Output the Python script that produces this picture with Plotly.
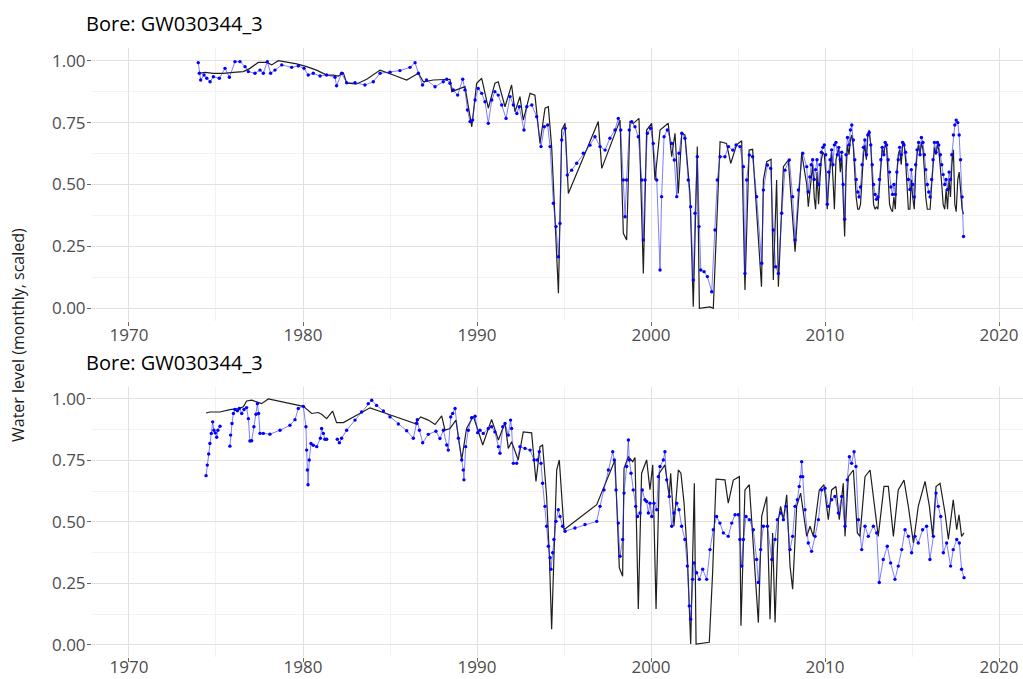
import plotly.graph_objects as go

# ---------------- Upper panel: observed and simulated monthly levels ----------------
top_obs_year = [
    1973.98, 1974.37, 1974.85, 1975.42, 1976.00, 1976.57, 1976.95, 1977.43, 1977.91, 1978.20,
    1978.58, 1979.06, 1979.64, 1980.21, 1980.78, 1981.36, 1981.74, 1982.03, 1982.32, 1982.51,
    1983.08, 1983.66, 1984.43, 1985.19, 1985.96, 1986.63, 1986.92, 1987.49, 1988.45, 1988.55,
    1988.83, 1989.31, 1989.70, 1989.98, 1990.27, 1990.65, 1991.03, 1991.22, 1991.61, 1991.99,
    1992.18, 1992.47, 1992.66, 1993.05, 1993.33, 1993.62, 1993.91, 1994.10, 1994.29, 1994.48,
    1994.68, 1994.87, 1995.06, 1995.25, 1996.97, 1997.17, 1998.22, 1998.41, 1998.60, 1998.79,
    1998.99, 1999.31, 1999.56, 1999.75, 2000.04, 2000.23, 2000.52, 2000.99, 2001.19, 2001.38,
    2001.57, 2001.77, 2001.95, 2002.24, 2002.43, 2002.66, 2002.78, 2003.39, 2003.58, 2003.97,
    2004.34, 2004.58, 2004.92, 2005.21, 2005.40, 2005.64, 2005.84, 2006.35, 2006.46, 2006.65,
    2006.90, 2007.03, 2007.22, 2007.32, 2007.61, 2007.89, 2008.28, 2008.66, 2008.95,
    2009.04, 2009.13, 2009.21, 2009.29, 2009.38, 2009.46, 2009.54, 2009.63, 2009.71, 2009.79, 2009.88, 2009.96,
    2010.04, 2010.13, 2010.21, 2010.29, 2010.38, 2010.46, 2010.54, 2010.63, 2010.71, 2010.79, 2010.88, 2010.96,
    2011.04, 2011.13, 2011.21, 2011.29, 2011.38, 2011.46, 2011.54, 2011.63, 2011.71, 2011.79, 2011.88, 2011.96,
    2012.04, 2012.13, 2012.21, 2012.29, 2012.38, 2012.46, 2012.54, 2012.63, 2012.71, 2012.79, 2012.88, 2012.96,
    2013.04, 2013.13, 2013.21, 2013.29, 2013.38, 2013.46, 2013.54, 2013.63, 2013.71, 2013.79, 2013.88, 2013.96,
    2014.04, 2014.13, 2014.21, 2014.29, 2014.38, 2014.46, 2014.54, 2014.63, 2014.71, 2014.79, 2014.88, 2014.96,
    2015.04, 2015.13, 2015.21, 2015.29, 2015.38, 2015.46, 2015.54, 2015.63, 2015.71, 2015.79, 2015.88, 2015.96,
    2016.04, 2016.13, 2016.21, 2016.29, 2016.38, 2016.46, 2016.54, 2016.63, 2016.71, 2016.79, 2016.88, 2016.96,
    2017.04, 2017.13, 2017.21, 2017.29, 2017.38, 2017.46, 2017.54, 2017.63, 2017.71, 2017.79, 2017.88, 2017.96,
]
top_obs_level = [
    0.949, 0.953, 0.949, 0.949, 0.953, 0.956, 0.969, 0.993, 0.993, 0.983,
    1.000, 0.995, 0.987, 0.976, 0.962, 0.942, 0.942, 0.938, 0.951, 0.909,
    0.906, 0.925, 0.962, 0.942, 0.922, 0.949, 0.915, 0.922, 0.925, 0.875,
    0.882, 0.895, 0.733, 0.909, 0.929, 0.808, 0.909, 0.915, 0.814, 0.902,
    0.794, 0.855, 0.760, 0.868, 0.861, 0.666, 0.808, 0.814, 0.653, 0.384,
    0.061, 0.720, 0.747, 0.464, 0.754, 0.565, 0.760, 0.303, 0.276, 0.754,
    0.747, 0.767, 0.141, 0.720, 0.747, 0.518, 0.720, 0.747, 0.612, 0.707,
    0.464, 0.707, 0.700, 0.464, 0.006, 0.653, 0.000, 0.006, 0.000, 0.673,
    0.666, 0.585, 0.660, 0.677, 0.074, 0.639, 0.642, 0.087, 0.518, 0.592,
    0.602, 0.114, 0.518, 0.087, 0.572, 0.599, 0.229, 0.626, 0.500,
    0.41, 0.48, 0.55, 0.58, 0.45, 0.40, 0.55, 0.42, 0.52, 0.60, 0.63, 0.62,
    0.55, 0.40, 0.50, 0.58, 0.63, 0.52, 0.40, 0.60, 0.62, 0.65, 0.55, 0.62,
    0.45, 0.29, 0.55, 0.66, 0.62, 0.68, 0.70, 0.65, 0.55, 0.45, 0.40, 0.40,
    0.42, 0.52, 0.62, 0.66, 0.60, 0.70, 0.72, 0.66, 0.52, 0.42, 0.40, 0.41,
    0.40, 0.50, 0.60, 0.65, 0.62, 0.66, 0.65, 0.52, 0.42, 0.40, 0.39, 0.45,
    0.40, 0.55, 0.62, 0.64, 0.58, 0.66, 0.67, 0.60, 0.48, 0.40, 0.40, 0.52,
    0.45, 0.40, 0.55, 0.62, 0.66, 0.62, 0.67, 0.64, 0.56, 0.45, 0.40, 0.40,
    0.40, 0.50, 0.60, 0.65, 0.62, 0.66, 0.64, 0.58, 0.50, 0.42, 0.40, 0.48,
    0.40, 0.52, 0.45, 0.58, 0.64, 0.42, 0.39, 0.52, 0.55, 0.48, 0.40, 0.38,
]

top_sim_year = [
    1973.98, 1974.04, 1974.12, 1974.31, 1974.47, 1974.66, 1974.85, 1975.19, 1975.52, 1975.77,
    1976.09, 1976.38, 1976.67, 1976.86, 1977.24, 1977.53, 1977.72, 1977.95, 1978.14, 1978.39,
    1978.78, 1979.35, 1979.73, 1980.06, 1980.30, 1980.59, 1980.98, 1981.36, 1981.84, 1981.93,
    1982.22, 1982.51, 1982.99, 1983.56, 1984.04, 1984.43, 1985.00, 1985.57, 1986.15, 1986.44,
    1986.63, 1986.87, 1987.10, 1987.59, 1988.06, 1988.26, 1988.45, 1988.64, 1988.89, 1989.18,
    1989.31, 1989.45, 1989.60, 1989.75, 1989.89, 1990.07, 1990.27, 1990.46, 1990.65, 1990.85,
    1991.03, 1991.22, 1991.42, 1991.67, 1991.90, 1992.09, 1992.29, 1992.43, 1992.70, 1992.86,
    1993.15, 1993.43, 1993.68, 1993.87, 1994.06, 1994.20, 1994.39, 1994.54, 1994.68, 1994.77,
    1994.87, 1995.06, 1995.19, 1995.44, 1995.73, 1996.11, 1996.49, 1996.78, 1997.07, 1997.36,
    1997.64, 1997.93, 1998.12, 1998.26, 1998.41, 1998.51, 1998.60, 1998.75, 1998.89, 1999.08,
    1999.27, 1999.47, 1999.56, 1999.66, 1999.79, 1999.98, 2000.13, 2000.33, 2000.52, 2000.61,
    2000.75, 2000.94, 2001.19, 2001.34, 2001.48, 2001.61, 2001.77, 2001.95, 2002.14, 2002.28,
    2002.43, 2002.53, 2002.66, 2002.76, 2002.86, 2003.05, 2003.24, 2003.49, 2003.68, 2003.81,
    2003.97, 2004.25, 2004.45, 2004.70, 2004.89, 2005.11, 2005.31, 2005.40, 2005.50, 2005.65,
    2005.84, 2006.07, 2006.36, 2006.46, 2006.69, 2006.88, 2007.03, 2007.16, 2007.32, 2007.51,
    2007.70, 2007.95, 2008.14, 2008.28, 2008.47, 2008.72, 2008.95,
    2009.04, 2009.13, 2009.21, 2009.29, 2009.38, 2009.46, 2009.54, 2009.63, 2009.71, 2009.79, 2009.88, 2009.96,
    2010.04, 2010.13, 2010.21, 2010.29, 2010.38, 2010.46, 2010.54, 2010.63, 2010.71, 2010.79, 2010.88, 2010.96,
    2011.04, 2011.13, 2011.21, 2011.29, 2011.38, 2011.46, 2011.54, 2011.63, 2011.71, 2011.79, 2011.88, 2011.96,
    2012.04, 2012.13, 2012.21, 2012.29, 2012.38, 2012.46, 2012.54, 2012.63, 2012.71, 2012.79, 2012.88, 2012.96,
    2013.04, 2013.13, 2013.21, 2013.29, 2013.38, 2013.46, 2013.54, 2013.63, 2013.71, 2013.79, 2013.88, 2013.96,
    2014.04, 2014.13, 2014.21, 2014.29, 2014.38, 2014.46, 2014.54, 2014.63, 2014.71, 2014.79, 2014.88, 2014.96,
    2015.04, 2015.13, 2015.21, 2015.29, 2015.38, 2015.46, 2015.54, 2015.63, 2015.71, 2015.79, 2015.88, 2015.96,
    2016.04, 2016.13, 2016.21, 2016.29, 2016.38, 2016.46, 2016.54, 2016.63, 2016.71, 2016.79, 2016.88, 2016.96,
    2017.04, 2017.13, 2017.21, 2017.29, 2017.38, 2017.46, 2017.54, 2017.63, 2017.71, 2017.79, 2017.88, 2017.96,
]
top_sim_level = [
    0.992, 0.949, 0.922, 0.942, 0.929, 0.915, 0.935, 0.929, 0.969, 0.933,
    0.996, 0.996, 0.976, 0.956, 0.949, 0.962, 0.949, 0.996, 0.949, 0.962,
    0.983, 0.973, 0.979, 0.969, 0.942, 0.949, 0.938, 0.942, 0.933, 0.899,
    0.949, 0.911, 0.911, 0.902, 0.915, 0.949, 0.953, 0.960, 0.973, 0.992,
    0.949, 0.902, 0.922, 0.895, 0.915, 0.925, 0.909, 0.882, 0.861, 0.925,
    0.882, 0.801, 0.754, 0.760, 0.841, 0.888, 0.868, 0.834, 0.747, 0.841,
    0.875, 0.861, 0.821, 0.767, 0.855, 0.821, 0.787, 0.814, 0.720, 0.814,
    0.821, 0.774, 0.653, 0.733, 0.740, 0.653, 0.424, 0.330, 0.208, 0.343,
    0.680, 0.727, 0.538, 0.558, 0.586, 0.626, 0.659, 0.693, 0.653, 0.639,
    0.687, 0.720, 0.767, 0.720, 0.518, 0.370, 0.518, 0.720, 0.754, 0.733,
    0.693, 0.518, 0.276, 0.518, 0.707, 0.727, 0.666, 0.518, 0.155, 0.451,
    0.693, 0.720, 0.666, 0.599, 0.451, 0.626, 0.707, 0.687, 0.518, 0.410,
    0.114, 0.384, 0.612, 0.330, 0.155, 0.148, 0.128, 0.067, 0.316, 0.518,
    0.612, 0.612, 0.653, 0.639, 0.660, 0.653, 0.572, 0.141, 0.518, 0.619,
    0.612, 0.451, 0.182, 0.478, 0.579, 0.565, 0.316, 0.168, 0.141, 0.384,
    0.558, 0.599, 0.451, 0.276, 0.478, 0.626, 0.572,
    0.47, 0.53, 0.58, 0.60, 0.52, 0.56, 0.60, 0.50, 0.58, 0.63, 0.65, 0.66,
    0.62, 0.42, 0.55, 0.60, 0.64, 0.58, 0.66, 0.67, 0.62, 0.65, 0.60, 0.63,
    0.50, 0.36, 0.62, 0.69, 0.66, 0.72, 0.74, 0.68, 0.60, 0.52, 0.47, 0.45,
    0.49, 0.58, 0.65, 0.68, 0.62, 0.70, 0.71, 0.66, 0.58, 0.50, 0.46, 0.44,
    0.45, 0.52, 0.60, 0.65, 0.62, 0.67, 0.66, 0.60, 0.55, 0.49, 0.46, 0.50,
    0.46, 0.55, 0.60, 0.65, 0.62, 0.67, 0.66, 0.63, 0.58, 0.52, 0.48, 0.56,
    0.50, 0.45, 0.58, 0.64, 0.67, 0.62, 0.69, 0.67, 0.62, 0.56, 0.50, 0.47,
    0.45, 0.52, 0.60, 0.67, 0.63, 0.67, 0.66, 0.62, 0.58, 0.54, 0.50, 0.52,
    0.48, 0.55, 0.52, 0.62, 0.70, 0.74, 0.76, 0.75, 0.70, 0.60, 0.45, 0.29,
]

# ---------------- Lower panel: observed and simulated monthly levels ----------------
bot_obs_year = [
    1974.43, 1974.65, 1975.23, 1975.80, 1976.28, 1976.57, 1976.76, 1977.05, 1977.34, 1977.62,
    1978.01, 1978.68, 1979.44, 1980.02, 1980.50, 1980.88, 1981.07, 1981.36, 1981.70, 1981.93,
    1982.32, 1983.08, 1983.85, 1984.62, 1985.57, 1986.44, 1986.76, 1987.20, 1987.59, 1987.97,
    1988.16, 1988.45, 1988.79, 1989.12, 1989.40, 1989.79, 1990.33, 1990.84, 1991.23, 1991.61,
    1991.80, 1991.99, 1992.37, 1992.66, 1993.14, 1993.39, 1993.62, 1993.77, 1994.00, 1994.16,
    1994.29, 1994.42, 1994.58, 1994.73, 1995.00, 1996.88, 1997.93, 1998.18, 1998.37, 1998.45,
    1998.70, 1998.95, 1999.08, 1999.27, 1999.46, 1999.75, 1999.94, 2000.10, 2000.29, 2000.48,
    2000.80, 2001.05, 2001.13, 2001.32, 2001.57, 2001.72, 2001.90, 2002.09, 2002.28, 2002.49,
    2002.59, 2003.35, 2003.54, 2003.74, 2004.25, 2004.44, 2004.73, 2005.08, 2005.17, 2005.40,
    2005.65, 2006.17, 2006.36, 2006.65, 2006.84, 2006.99, 2007.13, 2007.32, 2007.45, 2007.61,
    2007.80, 2007.99, 2008.14, 2008.37, 2008.60, 2008.95, 2009.14, 2009.33, 2009.67, 2009.94,
    2010.19, 2010.38, 2010.63, 2010.82, 2011.05, 2011.15, 2011.34, 2011.63, 2011.86, 2012.01,
    2012.30, 2012.59, 2012.87, 2013.06, 2013.39, 2013.64, 2013.93, 2014.21, 2014.54, 2014.79,
    2015.08, 2015.36, 2015.75, 2016.00, 2016.19, 2016.38, 2016.61, 2016.90, 2017.09, 2017.37,
    2017.57, 2017.70, 2017.85, 2017.99,
]
bot_obs_level = [
    0.943, 0.947, 0.947, 0.957, 0.961, 0.968, 0.992, 0.995, 0.988, 0.981,
    1.000, 0.990, 0.978, 0.970, 0.941, 0.945, 0.938, 0.920, 0.951, 0.904,
    0.904, 0.934, 0.964, 0.945, 0.920, 0.900, 0.927, 0.914, 0.896, 0.931,
    0.873, 0.880, 0.914, 0.752, 0.880, 0.930, 0.813, 0.917, 0.833, 0.903,
    0.799, 0.826, 0.752, 0.866, 0.862, 0.664, 0.806, 0.813, 0.603, 0.360,
    0.063, 0.360, 0.711, 0.752, 0.468, 0.570, 0.752, 0.313, 0.279, 0.718,
    0.765, 0.745, 0.762, 0.145, 0.698, 0.752, 0.631, 0.732, 0.145, 0.698,
    0.732, 0.603, 0.698, 0.482, 0.711, 0.698, 0.576, 0.360, 0.003, 0.657,
    0.003, 0.010, 0.292, 0.674, 0.671, 0.576, 0.670, 0.684, 0.077, 0.630,
    0.651, 0.090, 0.522, 0.603, 0.104, 0.455, 0.090, 0.509, 0.563, 0.509,
    0.610, 0.320, 0.226, 0.563, 0.617, 0.441, 0.482, 0.441, 0.630, 0.651,
    0.509, 0.630, 0.644, 0.509, 0.657, 0.441, 0.684, 0.711, 0.455, 0.441,
    0.684, 0.711, 0.536, 0.441, 0.644, 0.644, 0.441, 0.630, 0.670, 0.563,
    0.414, 0.563, 0.665, 0.563, 0.441, 0.644, 0.657, 0.536, 0.428, 0.590,
    0.468, 0.529, 0.441, 0.455,
]

# None marks months without a simulated value (breaks in the line)
bot_sim_year = [
    1974.43, 1974.50, 1974.58, 1974.65, 1974.73, 1974.81, 1974.88, 1974.96, 1975.04, 1975.11,
    1975.23, 1975.50,
    1975.80, 1975.84, 1975.92, 1976.00, 1976.09, 1976.23, 1976.34, 1976.48, 1976.61, 1976.76,
    1976.86, 1976.95, 1977.05, 1977.18, 1977.30, 1977.38, 1977.45, 1977.53, 1977.72, 1978.10,
    1978.68, 1979.25, 1979.54, 1979.73, 1980.02, 1980.17, 1980.21, 1980.25, 1980.29, 1980.36,
    1980.46, 1980.59, 1980.79, 1981.00, 1981.07, 1981.17, 1981.26, 1981.36, 1981.65,
    1981.97, 1982.09, 1982.22, 1982.51, 1982.99, 1983.37, 1983.75, 1983.95, 1984.23, 1984.62,
    1985.00, 1985.48, 1985.96, 1986.34, 1986.53, 1986.57, 1986.69, 1986.88, 1987.20, 1987.64,
    1987.87, 1988.07, 1988.26, 1988.35, 1988.49, 1988.60, 1988.74, 1988.93, 1989.12, 1989.21,
    1989.25, 1989.35, 1989.50, 1989.69, 1989.89, 1990.04, 1990.17, 1990.36, 1990.65, 1990.84,
    1991.03, 1991.23, 1991.32, 1991.48, 1991.61, 1991.80, 1991.93, 1991.99, 1992.09, 1992.28,
    1992.47, 1992.76, 1993.05, 1993.28, 1993.47, 1993.58, 1993.68, 1993.77, 1993.91, 1994.00,
    1994.10, 1994.20, 1994.25, 1994.35, 1994.42, 1994.54, 1994.67, 1994.77, 1994.92, 1995.06,
    1995.63, 1996.21, 1996.88, 1997.07, 1997.30, 1997.55, 1997.80, 1997.89, 1997.99, 1998.12,
    1998.22, 1998.37, 1998.45, 1998.60, 1998.70, 1998.75, 1998.85, 1998.98, 1999.12, 1999.23,
    1999.37, 1999.50, 1999.65, 1999.75, 1999.85, 1999.94, 2000.04, 2000.17, 2000.33, 2000.42,
    2000.52, 2000.71, 2000.80, 2000.90, 2001.05, 2001.19, 2001.32, 2001.48, 2001.61, 2001.76,
    2001.95, 2002.09, 2002.20, 2002.28, 2002.39, 2002.47, 2002.62, 2002.78, 2002.97, 2003.20,
    2003.39, 2003.58, 2003.77, 2003.96, 2004.16, 2004.44, 2004.64, 2004.83, 2005.02, 2005.11,
    2005.21, 2005.31, 2005.46, 2005.65, 2005.88, 2006.07, 2006.17, 2006.30, 2006.46, 2006.69,
    2006.94, 2007.13, 2007.26, 2007.45, 2007.61, 2007.76, 2007.99, 2008.14, 2008.28, 2008.41,
    2008.52, 2008.60, 2008.66, 2008.72, 2008.85, 2009.04, 2009.23, 2009.43, 2009.62, 2009.81,
    2010.00, 2010.19, 2010.38, 2010.57, 2010.77, 2010.96, 2011.15, 2011.28, 2011.40, 2011.53,
    2011.67, 2011.78, 2011.92, 2012.11, 2012.30, 2012.49, 2012.78, 2012.97, 2013.12, 2013.35,
    2013.58, 2013.77, 2014.02, 2014.21, 2014.41, 2014.60, 2014.79, 2014.98, 2015.17, 2015.36,
    2015.61, 2015.84, 2016.03, 2016.23, 2016.38, 2016.51, 2016.65, 2016.80, 2016.99, 2017.22,
    2017.37, 2017.57, 2017.72, 2017.85, 2017.99,
]
bot_sim_level = [
    0.688, 0.731, 0.776, 0.819, 0.860, 0.907, 0.873, 0.862, 0.844, 0.873,
    0.889, None,
    0.808, 0.853, 0.900, 0.941, 0.957, 0.952, 0.961, 0.941, 0.957, 0.965,
    0.920, 0.829, 0.830, 0.887, 0.938, 0.981, 0.941, 0.860, 0.860, 0.857,
    0.873, 0.893, 0.916, 0.961, 0.970, 0.887, 0.792, 0.711, 0.651, 0.752,
    0.819, 0.812, 0.806, 0.840, 0.880, 0.860, 0.836, 0.836, None,
    0.836, 0.822, 0.840, 0.873, 0.914, 0.947, 0.981, 0.995, 0.974, 0.951,
    0.927, 0.898, 0.871, 0.840, 0.900, 0.916, 0.873, 0.822, 0.856, 0.869,
    0.839, 0.873, 0.813, 0.792, 0.927, 0.941, 0.961, 0.840, 0.752, 0.711,
    0.671, 0.806, 0.873, 0.924, 0.930, 0.863, 0.873, 0.860, 0.880, 0.887,
    0.866, 0.806, 0.779, 0.887, 0.900, 0.853, 0.914, 0.880, 0.738, 0.738,
    0.806, 0.799, 0.792, 0.752, 0.752, 0.785, 0.738, 0.657, 0.563, 0.482,
    0.401, 0.354, 0.307, 0.374, 0.428, 0.502, 0.549, 0.522, 0.482, 0.462,
    0.475, 0.489, 0.502, 0.563, 0.630, 0.711, 0.785, 0.752, 0.630, 0.495,
    0.360, 0.428, 0.617, 0.725, 0.833, 0.752, 0.698, 0.630, 0.563, 0.522,
    0.536, 0.630, 0.590, 0.583, 0.536, 0.576, 0.522, 0.576, 0.549, 0.684,
    0.725, 0.752, 0.785, 0.671, 0.603, 0.482, 0.536, 0.576, 0.549, 0.482,
    0.428, 0.320, 0.158, 0.104, 0.266, 0.333, 0.293, 0.266, 0.307, 0.266,
    0.387, 0.468, 0.522, 0.495, 0.455, 0.441, 0.495, 0.529, 0.529, 0.428,
    0.320, 0.428, 0.522, 0.509, 0.468, 0.347, 0.253, 0.387, 0.482, 0.482,
    0.347, 0.428, 0.509, 0.536, 0.509, 0.563, 0.387, 0.441, 0.563, 0.590,
    0.644, 0.684, 0.745, 0.684, 0.549, 0.414, 0.380, 0.441, 0.509, 0.630,
    0.637, 0.563, 0.590, 0.603, 0.536, 0.603, 0.482, 0.671, 0.765, 0.738,
    0.785, 0.725, 0.509, 0.387, 0.482, 0.441, 0.482, 0.455, 0.253, 0.347,
    0.401, 0.333, 0.266, 0.320, 0.387, 0.468, 0.441, 0.374, 0.441, 0.414,
    0.468, 0.482, 0.347, 0.441, 0.617, 0.563, 0.522, 0.374, 0.414, 0.320,
    0.387, 0.428, 0.414, 0.307, 0.273,
]

panel_title = "Bore: GW030344_3"
y_title = "Water level (monthly, scaled)"
year_ticks = [1970, 1980, 1990, 2000, 2010, 2020]
level_ticks = [0.0, 0.25, 0.5, 0.75, 1.0]
level_tick_text = ["0.00", "0.25", "0.50", "0.75", "1.00"]

FONT = "Open Sans"
W, H = 1023, 679
LEFT = 92
OBS_COLOR = "#1f1f1f"
SIM_COLOR = "#0000ff"


def py_to_paper(py):
    return 1 - py / H


fig = go.Figure()

panels = [
    ("x", "y", top_obs_year, top_obs_level, top_sim_year, top_sim_level),
    ("x2", "y2", bot_obs_year, bot_obs_level, bot_sim_year, bot_sim_level),
]
for xa, ya, oy, ol, sy, sl in panels:
    fig.add_trace(go.Scatter(
        x=oy, y=ol, xaxis=xa, yaxis=ya, mode="lines",
        line=dict(color=OBS_COLOR, width=1.2), showlegend=False, hoverinfo="skip",
    ))
    fig.add_trace(go.Scatter(
        x=sy, y=sl, xaxis=xa, yaxis=ya, mode="lines+markers", connectgaps=False,
        line=dict(color="rgba(40,40,255,0.6)", width=1),
        marker=dict(color=SIM_COLOR, size=3.4),
        showlegend=False, hoverinfo="skip",
    ))

x_common = dict(
    range=[1967.874, 2021.379], tickvals=year_ticks, ticktext=[str(v) for v in year_ticks],
    showgrid=True, gridcolor="#e0e0e0", gridwidth=1.1,
    minor=dict(dtick=5, tick0=1965, showgrid=True, gridcolor="#f2f2f2", gridwidth=1, ticks=""),
    zeroline=False, showline=False, ticks="outside", ticklen=4, tickcolor="#666666", tickwidth=1,
    tickfont=dict(family=FONT, size=17, color="#4d4d4d"), automargin=False,
)
y_common = dict(
    range=[-0.05, 1.05], tickvals=level_ticks, ticktext=level_tick_text,
    showgrid=True, gridcolor="#e0e0e0", gridwidth=1.1,
    minor=dict(dtick=0.125, tick0=0.125, showgrid=True, gridcolor="#f2f2f2", gridwidth=1, ticks=""),
    zeroline=False, showline=False, ticks="outside", ticklen=4, tickcolor="#666666", tickwidth=1,
    ticklabelstandoff=-2,
    tickfont=dict(family=FONT, size=17, color="#4d4d4d"), automargin=False,
)

top_dom = [py_to_paper(320.7), py_to_paper(48.3)]
bot_dom = [py_to_paper(657.0), py_to_paper(386.7)]

fig.update_layout(
    width=W, height=H,
    margin=dict(l=LEFT, r=0, t=0, b=0),
    paper_bgcolor="white", plot_bgcolor="white",
    xaxis=dict(**x_common, anchor="y", domain=[0, 1], ticklabelstandoff=-5),
    yaxis=dict(**y_common, anchor="x", domain=top_dom),
    xaxis2=dict(**x_common, anchor="y2", domain=[0, 1], ticklabelstandoff=-9),
    yaxis2=dict(**y_common, anchor="x2", domain=bot_dom),
)

plot_w = W - LEFT
for py in (24, 362):
    fig.add_annotation(
        text=panel_title, xref="paper", yref="paper",
        x=(84 - LEFT) / plot_w, y=py_to_paper(py), xanchor="left", yanchor="middle",
        showarrow=False, font=dict(family=FONT, size=20, color="#000000"),
    )
fig.add_annotation(
    text=y_title, xref="paper", yref="paper", textangle=-90,
    x=(18 - LEFT) / plot_w, y=py_to_paper(335), xanchor="center", yanchor="middle",
    showarrow=False, font=dict(family=FONT, size=16, color="#1a1a1a"),
)

fig.write_html("out.html")
